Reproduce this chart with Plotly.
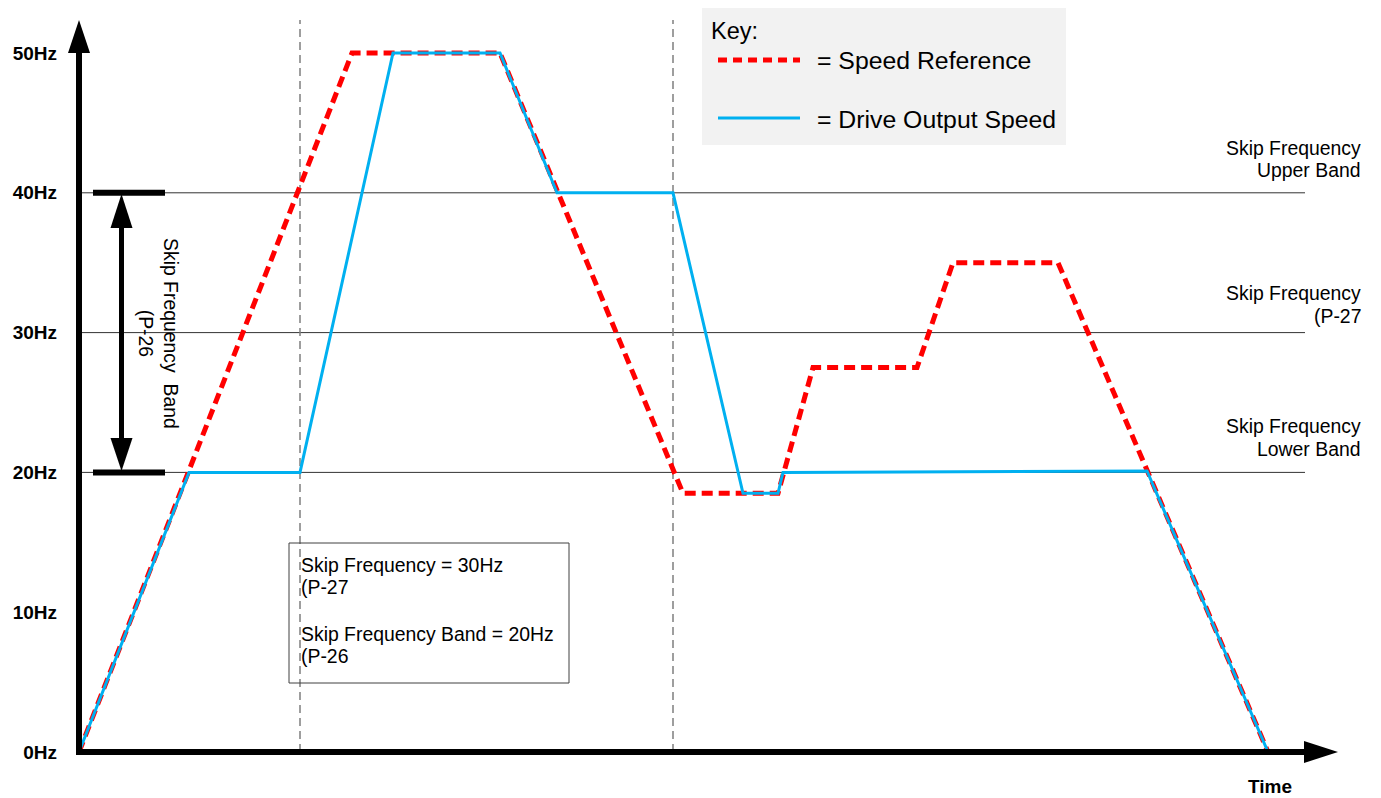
import plotly.graph_objects as go

# ---------------- data ----------------
ref_t = [0, 27.3, 42.1, 60.4, 69.9, 73.4, 83.8, 87.4, 97.9, 118.9]
ref_hz = [0, 50, 50, 18.5, 18.5, 27.5, 27.5, 35, 35, 0]

out_t = [0, 11.0, 22.1, 31.4, 42.1, 47.8, 59.4, 66.4, 69.9, 70.4, 106.8, 118.9]
out_hz = [0, 20, 20, 50, 50, 40, 40, 18.5, 18.5, 20, 20.1, 0]

y_ticks = [0, 10, 20, 30, 40, 50]
y_labels = ["0Hz", "10Hz", "20Hz", "30Hz", "40Hz", "50Hz"]

skip_freq = 30
skip_band = 20
skip_lines = [skip_freq - skip_band / 2, skip_freq, skip_freq + skip_band / 2]
marker_times = [22.1, 59.4]
time_end = 122.6

# ---------------- geometry helpers (screen pixel -> data) ----------------
SCR_W, SCR_H = 1381, 798
OFF = 8                      # page body margin
W, H = SCR_W - OFF, SCR_H - OFF
ML = 52                      # left margin (figure px) -> screen px 60


def tx(px):
    return (px - 79) / 10.0


def hy(py):
    return (752 - py) / 13.98


FONT = "Liberation Sans, Arial, sans-serif"
RED = "#ff0000"
BLUE = "#00b0f0"

fig = go.Figure()
fig.add_trace(go.Scatter(x=ref_t, y=ref_hz, mode="lines",
                         line=dict(color=RED, width=5, dash="11px,6px"),
                         name="Speed Reference", hoverinfo="skip"))
fig.add_trace(go.Scatter(x=out_t, y=out_hz, mode="lines",
                         line=dict(color=BLUE, width=3),
                         name="Drive Output Speed", hoverinfo="skip"))

shapes = []
# key background
shapes.append(dict(type="rect", x0=tx(702), x1=tx(1066), y0=hy(5), y1=hy(145),
                   fillcolor="#f2f2f2", line=dict(width=0), layer="below"))
# skip-frequency reference lines
for v in skip_lines:
    shapes.append(dict(type="line", x0=0, x1=time_end, y0=v, y1=v,
                       line=dict(color="#333333", width=1), layer="below"))
# vertical dashed markers
for t in marker_times:
    shapes.append(dict(type="line", x0=t, x1=t, y0=0, y1=hy(20),
                       line=dict(color="#7f7f7f", width=1.5, dash="8px,5px"), layer="below"))
# info box
shapes.append(dict(type="rect", x0=tx(289), x1=tx(569), y0=hy(543), y1=hy(683),
                   line=dict(color="#404040", width=1), layer="below"))
# axes
shapes.append(dict(type="line", x0=0, x1=0, y0=hy(755), y1=hy(50),
                   line=dict(color="black", width=6)))
shapes.append(dict(type="path",
                   path=f"M {tx(68)},{hy(53)} L {tx(90)},{hy(53)} L {tx(79)},{hy(20)} Z",
                   fillcolor="black", line=dict(width=0)))
shapes.append(dict(type="line", x0=tx(76), x1=tx(1308), y0=0, y1=0,
                   line=dict(color="black", width=6)))
shapes.append(dict(type="path",
                   path=f"M {tx(1304)},{hy(741)} L {tx(1304)},{hy(763)} L {tx(1338)},{hy(752)} Z",
                   fillcolor="black", line=dict(width=0)))
# skip band bars and double arrow
for v in [skip_lines[0], skip_lines[2]]:
    shapes.append(dict(type="line", x0=tx(93), x1=tx(165), y0=v, y1=v,
                       line=dict(color="black", width=6)))
ax_x = 121.5
shapes.append(dict(type="line", x0=tx(ax_x), x1=tx(ax_x), y0=hy(226), y1=hy(440),
                   line=dict(color="black", width=5)))
shapes.append(dict(type="path",
                   path=f"M {tx(ax_x-11)},{hy(228)} L {tx(ax_x+11)},{hy(228)} L {tx(ax_x)},{hy(194)} Z",
                   fillcolor="black", line=dict(width=0)))
shapes.append(dict(type="path",
                   path=f"M {tx(ax_x-11)},{hy(438)} L {tx(ax_x+11)},{hy(438)} L {tx(ax_x)},{hy(471)} Z",
                   fillcolor="black", line=dict(width=0)))
# key samples
shapes.append(dict(type="line", x0=tx(718), x1=tx(800), y0=hy(60), y1=hy(60),
                   line=dict(color=RED, width=5, dash="9px,6px")))
shapes.append(dict(type="line", x0=tx(718), x1=tx(800), y0=hy(118), y1=hy(118),
                   line=dict(color=BLUE, width=3)))

ann = []


def text(x, y, s, size=19, xa="left", ya="middle", bold=False, angle=0, align="left"):
    ann.append(dict(x=x, y=y, text=s, showarrow=False, xanchor=xa, yanchor=ya,
                    textangle=angle, align=align,
                    font=dict(family=FONT, size=size, color="black",
                              weight="bold" if bold else "normal")))


text(tx(709), hy(31), "Key:", size=23.5)
text(tx(815), hy(60), "= Speed Reference", size=24.8)
text(tx(815), hy(119), "= Drive Output Speed", size=24.8)

for s, py in [("Skip Frequency", 148), ("Upper Band", 170),
              ("Skip Frequency", 293), ("(P-27", 316),
              ("Skip Frequency", 426), ("Lower Band", 449)]:
    text(tx(1363), hy(py), s, size=19.4, xa="right")

for s, py in [("Skip Frequency = 30Hz", 565), ("(P-27", 587),
              ("Skip Frequency Band = 20Hz", 634), ("(P-26", 656)]:
    text(tx(299), hy(py), s, size=19.4)

text(tx(159), hy(333), "Skip Frequency  Band<br>(P-26", size=19.4, xa="center",
     angle=90, align="center")
text(tx(1270), hy(786), "Time", size=19, xa="center", bold=True)

fig.update_layout(
    width=W, height=H, autosize=False,
    margin=dict(l=ML, r=0, t=0, b=0),
    paper_bgcolor="white", plot_bgcolor="white",
    showlegend=False,
    shapes=shapes, annotations=ann,
    xaxis=dict(range=[tx(ML + OFF), tx(SCR_W)], showgrid=False, zeroline=False,
               showline=False, showticklabels=False, ticks=""),
    yaxis=dict(range=[hy(SCR_H), hy(OFF)], showgrid=False, zeroline=False,
               showline=False, tickvals=y_ticks, ticktext=y_labels, ticks="",
               ticklabelstandoff=2,
               tickfont=dict(family=FONT, size=19, color="black", weight="bold")),
)

fig.write_html("out.html")
